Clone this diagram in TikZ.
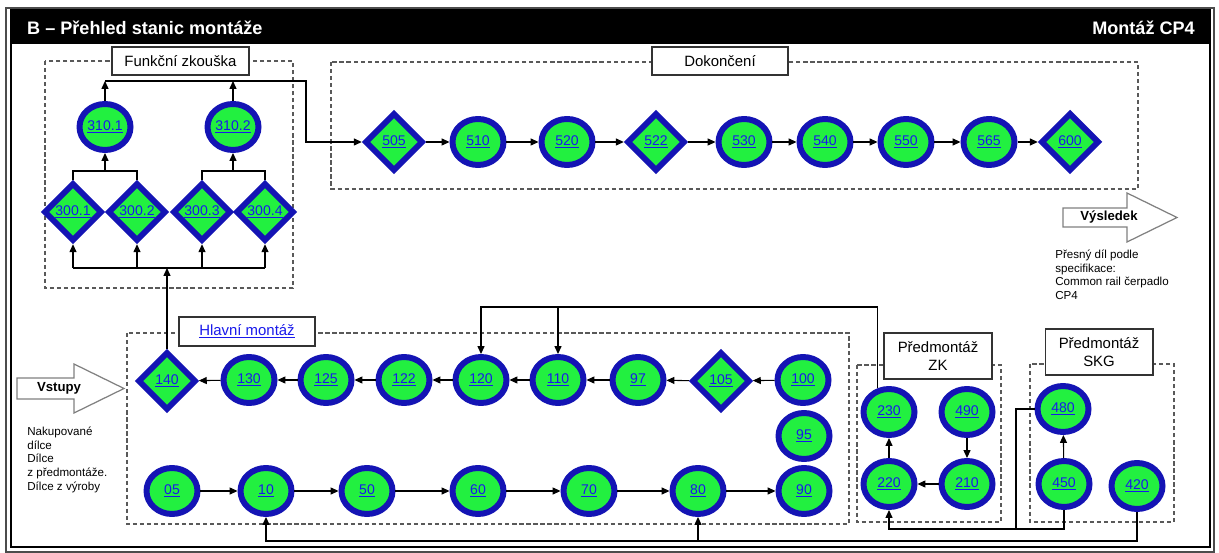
\documentclass[tikz,border=0pt]{standalone}
\usepackage{fontspec}
\setmainfont{Liberation Sans}
\usetikzlibrary{shapes.geometric,arrows.meta}
\definecolor{stfill}{RGB}{34,240,64}
\definecolor{stedge}{RGB}{20,20,180}
\definecolor{lnk}{RGB}{25,25,235}
\newcommand\stl[1]{\underline{#1}}
\begin{document}
\begin{tikzpicture}[x=0.02cm,y=-0.02cm,
  station/.style={ellipse, draw=stedge, fill=stfill, line width=3.4pt,
    minimum width=1.02cm, minimum height=0.92cm, inner sep=0pt,
    font=\fontsize{8}{9}\selectfont, text=lnk},
  check/.style={diamond, aspect=1, draw=stedge, fill=stfill, line width=3.4pt,
    minimum width=1.17cm, minimum height=1.17cm, inner sep=0pt,
    font=\fontsize{8}{9}\selectfont, text=lnk},
  flow/.style={-{Triangle[length=4.5pt,width=4pt]}, line width=0.6pt},
  wire/.style={line width=0.6pt},
  group/.style={draw=black!65, dash pattern=on 2.4pt off 1.6pt, line width=0.6pt},
  tag/.style={draw=black!80, fill=white, line width=0.6pt, inner sep=0pt,
    align=center, font=\fontsize{8.5}{10}\selectfont},
  bigarrow/.style={draw=black!50, fill=white, line width=0.7pt},
  note/.style={align=left, inner sep=0pt, font=\fontsize{6.6}{7.7}\selectfont},
]
\useasboundingbox (0,0) rectangle (1219,553);

% frame and title bar
\draw[black!70, line width=0.6pt] (6,8) rectangle (1214,552);
\draw[black, line width=0.6pt] (11,10) rectangle (1210,547);
\fill[black] (11,10) rectangle (1210,44);
\node[anchor=west, text=white, font=\fontsize{10.3}{12}\selectfont\bfseries] (title) at (21,28) {B -- Přehled stanic montáže};
\node[anchor=east, text=white, font=\fontsize{10.3}{12}\selectfont\bfseries] (product) at (1201,28) {Montáž CP4};

% group frames
\draw[group] (45,61) rectangle (293,288);
\draw[group] (331,62) rectangle (1138,189);
\draw[group] (127,333) rectangle (849,524);
\draw[group] (857,365) rectangle (1001,522);
\draw[group] (1030,364) rectangle (1174,522);

\node[tag, minimum width=2.74cm, minimum height=0.56cm] (fztag) at (180.5,61) {Funkční zkouška};
\node[tag, minimum width=2.72cm, minimum height=0.56cm] (dktag) at (720,61) {Dokončení};
\node[tag, minimum width=2.72cm, minimum height=0.58cm, text=lnk] (hmtag) at (247,331.5) {\stl{Hlavní montáž}};
\node[tag, minimum width=2.16cm, minimum height=0.92cm] (zktag) at (938,356) {Předmontáž\\ZK};
\node[tag, minimum width=2.16cm, minimum height=0.92cm] (sktag) at (1099,352) {Předmontáž\\SKG};

% input / output arrows
\draw[bigarrow] (17,378) -- (74,378) -- (74,364) -- (124,388.5) -- (74,413) -- (74,399) -- (17,399) -- cycle;
\node[font=\fontsize{7.5}{9}\selectfont\bfseries] (vstupy) at (59,388.5) {Vstupy};
\draw[bigarrow] (1063,208) -- (1127,208) -- (1127,193) -- (1177,217.5) -- (1127,242) -- (1127,227) -- (1063,227) -- cycle;
\node[font=\fontsize{7.5}{9}\selectfont\bfseries] (vysledek) at (1109,217.5) {Výsledek};

\node[note, anchor=north west] (innote) at (27,427) {Nakupované\\dílce\\Dílce\\z předmontáže.\\Dílce z výroby};
\node[note, anchor=north west] (outnote) at (1055,250) {Přesný díl podle\\specifikace:\\Common rail čerpadlo\\CP4};

% function test stations
\node[station] (s3101) at (105,127) {\stl{310.1}};
\node[station] (s3102) at (233,127) {\stl{310.2}};
\node[check] (s3001) at (73,212) {\stl{300.1}};
\node[check] (s3002) at (137,212) {\stl{300.2}};
\node[check] (s3003) at (202,212) {\stl{300.3}};
\node[check] (s3004) at (265,212) {\stl{300.4}};

% finishing line
\node[check] (s505) at (394,142) {\stl{505}};
\node[station] (s510) at (478,142) {\stl{510}};
\node[station] (s520) at (567,142) {\stl{520}};
\node[check] (s522) at (656,142) {\stl{522}};
\node[station] (s530) at (744,142) {\stl{530}};
\node[station] (s540) at (825,142) {\stl{540}};
\node[station] (s550) at (906,142) {\stl{550}};
\node[station] (s565) at (989,142) {\stl{565}};
\node[check] (s600) at (1070,142) {\stl{600}};

% main assembly
\node[check] (s140) at (167,381) {\stl{140}};
\node[station] (s130) at (249,380) {\stl{130}};
\node[station] (s125) at (326,380) {\stl{125}};
\node[station] (s122) at (404,380) {\stl{122}};
\node[station] (s120) at (481,380) {\stl{120}};
\node[station] (s110) at (558,380) {\stl{110}};
\node[station] (s97) at (638,380) {\stl{97}};
\node[check] (s105) at (721,381) {\stl{105}};
\node[station] (s100) at (803,380) {\stl{100}};
\node[station] (s95) at (804,436) {\stl{95}};
\node[station] (s90) at (804,491) {\stl{90}};
\node[station] (s05) at (172,491) {\stl{05}};
\node[station] (s10) at (266,491) {\stl{10}};
\node[station] (s50) at (367,491) {\stl{50}};
\node[station] (s60) at (478,491) {\stl{60}};
\node[station] (s70) at (589,491) {\stl{70}};
\node[station] (s80) at (698,491) {\stl{80}};

% pre-assembly ZK
\node[station] (s230) at (889,412) {\stl{230}};
\node[station] (s490) at (967,412) {\stl{490}};
\node[station] (s220) at (889,484) {\stl{220}};
\node[station] (s210) at (967,484) {\stl{210}};

% pre-assembly SKG
\node[station] (s480) at (1063,409) {\stl{480}};
\node[station] (s450) at (1064,484) {\stl{450}};
\node[station] (s420) at (1137,486) {\stl{420}};

% bus coordinates
\coordinate (fzbus) at (167,268);
\coordinate (pairA) at (105,171);
\coordinate (pairB) at (233,171);
\coordinate (topA) at (105,81);
\coordinate (topB) at (233,81);
\coordinate (topR) at (306,81);
\coordinate (zkbus) at (877,307);
\coordinate (skbus) at (1016,529);
\coordinate (lowbus) at (1137,541);

% function test connectors
\draw[wire] (s3001.south |- fzbus) -- (s3004.south |- fzbus);
\foreach \n in {s3001,s3002,s3003,s3004}
  \draw[flow] (\n.south |- fzbus) -- (\n.south);
\draw[flow] (s140.north) -- (fzbus);
\draw[wire] (s3001.north) |- (pairA) -| (s3002.north);
\draw[wire] (s3003.north) |- (pairB) -| (s3004.north);
\draw[flow] (pairA) -- (s3101.south);
\draw[flow] (pairB) -- (s3102.south);
\draw[flow] (s3101.north) -- (topA);
\draw[flow] (s3102.north) -- (topB);
\draw[flow] (topA) -- (topR) |- (s505.west);

% finishing connectors
\draw[flow] (s505) -- (s510);
\draw[flow] (s510) -- (s520);
\draw[flow] (s520) -- (s522);
\draw[flow] (s522) -- (s530);
\draw[flow] (s530) -- (s540);
\draw[flow] (s540) -- (s550);
\draw[flow] (s550) -- (s565);
\draw[flow] (s565) -- (s600);

% main assembly connectors
\draw[flow] (s100) -- (s105);
\draw[flow] (s105) -- (s97);
\draw[flow] (s97) -- (s110);
\draw[flow] (s110) -- (s120);
\draw[flow] (s120) -- (s122);
\draw[flow] (s122) -- (s125);
\draw[flow] (s125) -- (s130);
\draw[flow] (s130) -- (s140);
\draw[flow] (s05) -- (s10);
\draw[flow] (s10) -- (s50);
\draw[flow] (s50) -- (s60);
\draw[flow] (s60) -- (s70);
\draw[flow] (s70) -- (s80);
\draw[flow] (s80) -- (s90);

% pre-assembly connectors
\draw[flow] (s490) -- (s210);
\draw[flow] (s210) -- (s220);
\draw[flow] (s220) -- (s230);
\draw[flow] (s450) -- (s480);
\draw[flow] (s230.115) |- (s120.north |- zkbus) -- (s120.north);
\draw[flow] (s110.north |- zkbus) -- (s110.north);
\draw[flow] (s450.south) |- (s220.south |- skbus) -- (s220.south);
\draw[wire] (s480.west) -| (skbus);
\draw[flow] (s420.south) |- (s10.south |- lowbus) -- (s10.south);
\draw[flow] (s80.south |- lowbus) -- (s80.south);
\end{tikzpicture}
\end{document}
